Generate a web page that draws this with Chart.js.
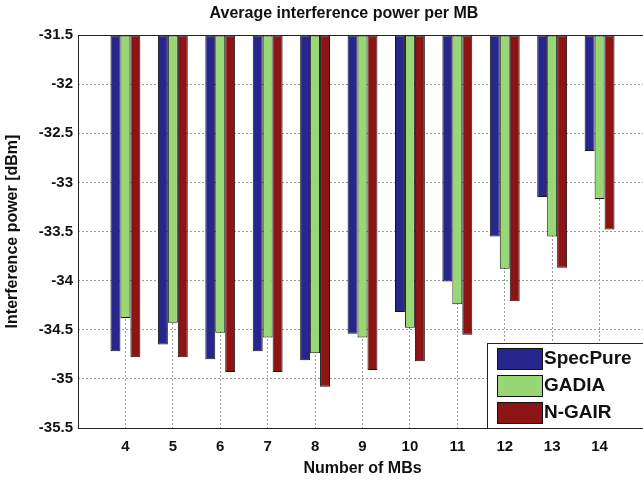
<!DOCTYPE html>
<html>
<head>
<meta charset="utf-8">
<script src="https://cdn.jsdelivr.net/npm/chart.js@4.4.1/dist/chart.umd.min.js"></script>
<style>
  html, body { margin: 0; padding: 0; background: #fff; overflow: hidden; }
</style>
</head>
<body>
<canvas id="chart" width="660" height="480"></canvas>
<script>
// values
const mbCounts = [4, 5, 6, 7, 8, 9, 10, 11, 12, 13, 14];
const specPure = [-34.72, -34.65, -34.80, -34.72, -34.81, -34.54, -34.32, -34.01, -33.55, -33.15, -32.68];
const gadia    = [-34.38, -34.43, -34.53, -34.58, -34.74, -34.58, -34.48, -34.24, -33.88, -33.55, -33.17];
const nGair    = [-34.78, -34.78, -34.93, -34.93, -35.08, -34.91, -34.82, -34.55, -34.21, -33.87, -33.48];
const seriesNames = ['SpecPure', 'GADIA', 'N-GAIR'];
const seriesColors = ['#26268c', '#98d874', '#8c1414'];
const yMin = -35.5, yMax = -31.5, yStep = 0.5;
const xMin = 3, xMax = 15;

const FONT = '"Liberation Sans", Arial, sans-serif';

function toPoints(values) {
    return values.map((v, i) => ({ x: mbCounts[i], y: v }));
}

// frame, title and legend drawn on top
const decorPlugin = {
    id: 'decor',
    afterDraw(chart) {
        const ctx = chart.ctx;
        const a = chart.chartArea;
        ctx.save();
        ctx.strokeStyle = '#222';
        ctx.lineWidth = 1;
        ctx.strokeRect(a.left + 0.5, a.top + 0.5, a.right - a.left, a.bottom - a.top);

        // title
        ctx.fillStyle = '#111';
        ctx.font = 'bold 16px ' + FONT;
        ctx.textAlign = 'center';
        ctx.textBaseline = 'middle';
        ctx.fillText('Average interference power per MB', 344, 14);

        // legend box inside the plot
        const lx = 487, ly = 343;
        ctx.fillStyle = '#fff';
        ctx.fillRect(lx, ly, 200, a.bottom - ly);
        ctx.strokeStyle = '#222';
        ctx.strokeRect(lx + 0.5, ly + 0.5, 200, a.bottom - ly);
        ctx.font = 'bold 19px ' + FONT;
        ctx.textAlign = 'left';
        chart.data.datasets.forEach((ds, i) => {
            const y = 348 + i * 27;
            ctx.fillStyle = ds.backgroundColor;
            ctx.fillRect(497, y, 45, 21);
            ctx.strokeStyle = '#111';
            ctx.strokeRect(497.5, y + 0.5, 45, 21);
            ctx.fillStyle = '#111';
            ctx.fillText(ds.label, 544, y + 11);
        });
        ctx.restore();
    }
};

new Chart(document.getElementById('chart'), {
    type: 'bar',
    data: {
        datasets: [specPure, gadia, nGair].map((vals, i) => ({
            label: seriesNames[i],
            data: toPoints(vals),
            base: yMax,
            backgroundColor: seriesColors[i],
            borderColor: '#151515',
            borderWidth: 1,
            borderSkipped: false,
            categoryPercentage: 0.63,
            barPercentage: 1
        }))
    },
    options: {
        responsive: false,
        animation: false,
        layout: { padding: { left: 0, top: 35, right: 13, bottom: 0 } },
        plugins: {
            legend: { display: false },
            title: { display: false },
            tooltip: { enabled: false }
        },
        scales: {
            x: {
                type: 'linear',
                min: xMin,
                max: xMax,
                offset: false,
                afterFit: s => { s.height = 52; },
                ticks: {
                    stepSize: 1,
                    padding: 10,
                    color: '#111',
                    font: { family: FONT, size: 15, weight: 'bold' },
                    callback: v => (v < 4 || v > 14) ? null : v
                },
                grid: {
                    offset: false,
                    drawTicks: false,
                    color: c => (c.tick && c.tick.value >= 4 && c.tick.value <= 14) ? '#9a9a9a' : 'rgba(0,0,0,0)'
                },
                border: { display: false, dash: [2, 2] },
                title: {
                    display: true,
                    text: 'Number of MBs',
                    color: '#111',
                    font: { family: FONT, size: 16, weight: 'bold' },
                    padding: { top: 0, bottom: 2 }
                }
            },
            y: {
                min: yMin,
                max: yMax,
                afterFit: s => { s.width = 78; },
                ticks: {
                    stepSize: yStep,
                    padding: 5,
                    color: '#111',
                    font: { family: FONT, size: 15, weight: 'bold' },
                    callback: v => String(Math.round(v * 10) / 10)
                },
                grid: {
                    drawTicks: false,
                    color: c => (c.tick && c.tick.value > yMin && c.tick.value < yMax) ? '#9a9a9a' : 'rgba(0,0,0,0)'
                },
                border: { display: false, dash: [2, 2] },
                title: {
                    display: true,
                    text: 'Interference power [dBm]',
                    color: '#111',
                    font: { family: FONT, size: 16, weight: 'bold' },
                    padding: { top: 3, bottom: 0 }
                }
            }
        }
    },
    plugins: [decorPlugin]
});
</script>
</body>
</html>
